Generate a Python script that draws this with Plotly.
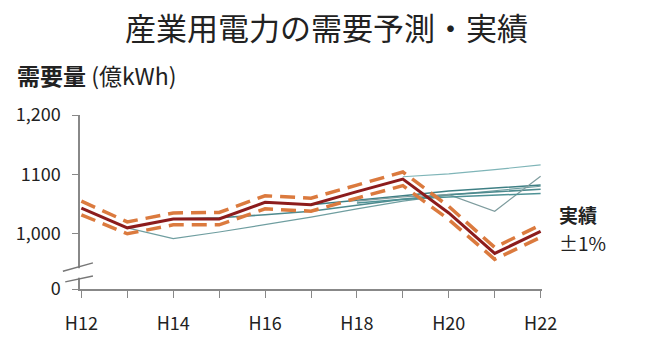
import plotly.graph_objects as go

years = [12, 13, 14, 15, 16, 17, 18, 19, 20, 21, 22]
tick_labels = ["H12", "", "H14", "", "H16", "", "H18", "", "H20", "", "H22"]

actual = [1043, 1010, 1025, 1025, 1053, 1049, 1071, 1092, 1035, 967, 1004]
upper = [1055, 1020, 1035, 1036, 1064, 1060, 1082, 1104, 1046, 977, 1015]
lower = [1032, 1000, 1015, 1015, 1042, 1038, 1060, 1081, 1024, 957, 994]

f1_x = [13, 14, 15, 16, 17, 18, 19, 20, 21, 22]
f1_y = [1010, 992, 1003, 1015, 1028, 1042, 1055, 1065, 1073, 1080]
f2_x = [14, 15, 16, 17, 18, 19, 20, 21, 22]
f2_y = [1025, 1027, 1032, 1038, 1048, 1058, 1066, 1071, 1075]
f3_x = [17, 18, 19, 20, 21, 22]
f3_y = [1049, 1056, 1064, 1072, 1077, 1082]
f4_x = [19, 20, 21, 22]
f4_y = [1096, 1101, 1108, 1116]
f5_x = [18, 19, 20, 21, 22]
f5_y = [1055, 1062, 1066, 1038, 1097]
f6_x = [18, 19, 20, 21, 22]
f6_y = [1052, 1058, 1062, 1065, 1068]

ytick_vals = [907, 1000, 1100, 1200]
ytick_text = ["0", "1,000", "1100", "1,200"]

FONT = "Noto Sans CJK JP"

fig = go.Figure()
teal_specs = [
    (f1_x, f1_y, "#6f9ea0", 1.2),
    (f2_x, f2_y, "#4d8a8e", 1.6),
    (f3_x, f3_y, "#3e7f84", 1.5),
    (f4_x, f4_y, "#7fb5b8", 1.2),
    (f5_x, f5_y, "#7e9c9e", 1.2),
    (f6_x, f6_y, "#4f9296", 1.5),
]
for xs, ys, c, w in teal_specs:
    fig.add_trace(go.Scatter(x=xs, y=ys, mode="lines", line=dict(color=c, width=w), showlegend=False))

for ys in (upper, lower):
    fig.add_trace(go.Scatter(x=years, y=ys, mode="lines",
                             line=dict(color="#db7a3e", width=3.5, dash="15px,8px"), showlegend=False))
fig.add_trace(go.Scatter(x=years, y=actual, mode="lines",
                         line=dict(color="#8c1c1c", width=3), showlegend=False))

fig.update_layout(
    width=653, height=342,
    margin=dict(l=80, r=111, t=115, b=53),
    paper_bgcolor="white", plot_bgcolor="white",
    font=dict(family=FONT, color="#333333"),
    title=dict(text="産業用電力の需要予測・実績", x=0.5, xanchor="center", y=0.915, yanchor="middle",
               font=dict(size=31, family=FONT, color="#222222")),
    xaxis=dict(range=[11.97, 22.03], tickvals=years, ticktext=tick_labels, showgrid=False,
               zeroline=False, showline=True, linecolor="#888888", linewidth=1.5,
               ticks="outside", ticklen=7, tickcolor="#888888", ticklabelstandoff=11,
               automargin=False, tickfont=dict(size=18, color="#222222")),
    yaxis=dict(range=[907, 1200], tickvals=ytick_vals, ticktext=ytick_text, showgrid=False,
               zeroline=False, showline=True, linecolor="#888888", linewidth=1.5,
               ticks="outside", ticklen=6, tickcolor="#888888", ticklabelstandoff=8,
               automargin=False, tickfont=dict(size=18, color="#222222")),
    annotations=[
        dict(text="<b>需要量</b> (億kWh)", xref="paper", yref="paper", x=-0.141, y=1.23,
             xanchor="left", yanchor="middle", showarrow=False,
             font=dict(size=23, family=FONT, color="#222222")),
        dict(text="<b>実績</b>", xref="paper", yref="paper", x=1.032, y=0.43,
             xanchor="left", yanchor="middle", showarrow=False,
             font=dict(size=19, family=FONT, color="#222222")),
        dict(text="±1%", xref="paper", yref="paper", x=1.032, y=0.27,
             xanchor="left", yanchor="middle", showarrow=False,
             font=dict(size=19, family=FONT, color="#222222")),
    ],
)

# axis break marks
fig.add_shape(type="rect", xref="paper", yref="y", x0=-0.01, x1=0.01, y0=926, y1=942,
              fillcolor="white", line=dict(width=0), layer="above")
fig.add_shape(type="line", xref="paper", yref="y", x0=-0.037, x1=0.028, y0=937, y1=951,
              line=dict(color="#777777", width=1.5), layer="above")
fig.add_shape(type="line", xref="paper", yref="y", x0=-0.032, x1=0.028, y0=919, y1=929,
              line=dict(color="#777777", width=1.5), layer="above")

fig.write_html("out.html", config={"displayModeBar": False},
               post_script="document.body.style.margin='0';")
